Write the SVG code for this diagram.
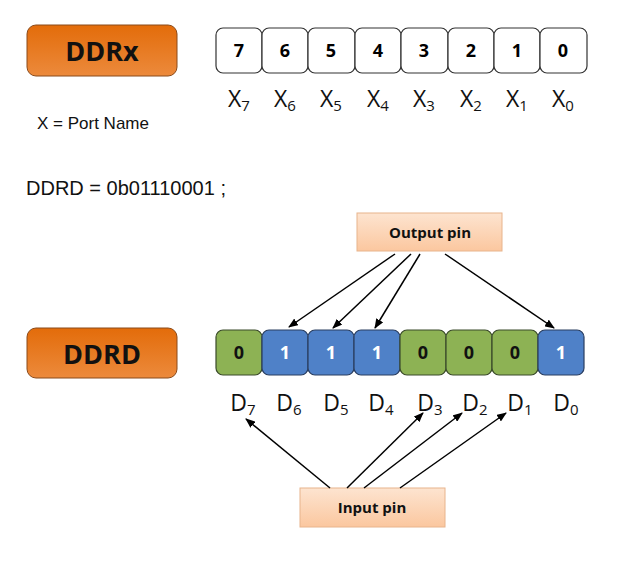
<svg xmlns="http://www.w3.org/2000/svg" width="620" height="563" viewBox="0 0 620 563">
<defs>
<linearGradient id="og" x1="0" y1="0" x2="0" y2="1"><stop offset="0" stop-color="#e36c0a"/><stop offset="1" stop-color="#ec8a3c"/></linearGradient>
<linearGradient id="pg" x1="0" y1="0" x2="0" y2="1"><stop offset="0" stop-color="#fde4d0"/><stop offset="1" stop-color="#fbc79f"/></linearGradient>
<marker id="ah" markerWidth="10" markerHeight="8" refX="9" refY="4" orient="auto" markerUnits="userSpaceOnUse"><path d="M0,0 L10,4 L0,8 z" fill="#000"/></marker>
<style>
.title{font-family:"Open Sans",sans-serif;font-weight:bold;font-size:27px;fill:#111;text-anchor:middle}
.cell{fill:#fff;stroke:#333;stroke-width:1.2}
.g{fill:#8db254;stroke:#3a4a2a;stroke-width:1.2}
.b{fill:#4f81c8;stroke:#2a3e60;stroke-width:1.2}
.num{font-family:"Open Sans",sans-serif;font-weight:bold;font-size:18px;text-anchor:middle}
.lbl{font-family:"Open Sans",sans-serif;font-size:23px;fill:#111;text-anchor:middle}
.sub{font-size:15px}
.plain{font-family:"Liberation Sans",sans-serif;fill:#111}
.pin{fill:url(#pg);stroke:#e8b48c;stroke-width:1}
.pint{font-family:"Open Sans",sans-serif;font-weight:bold;font-size:15px;fill:#111;text-anchor:middle}
.c{stroke:#000;stroke-width:1.5;fill:none;marker-end:url(#ah)}
</style>
</defs>
<rect width="620" height="563" fill="#fff"/>
<g id="ddrx"><rect x="27" y="25" width="150" height="51" rx="9" fill="url(#og)" stroke="#8a4a1a"/><text class="title" x="102" y="61">DDRx</text></g>
<g id="xreg">
<rect class="cell" x="216" y="28" width="46" height="45" rx="7"/><text class="num" x="239" y="57">7</text>
<rect class="cell" x="262" y="28" width="46" height="45" rx="7"/><text class="num" x="285" y="57">6</text>
<rect class="cell" x="308" y="28" width="47" height="45" rx="7"/><text class="num" x="331" y="57">5</text>
<rect class="cell" x="355" y="28" width="46" height="45" rx="7"/><text class="num" x="378" y="57">4</text>
<rect class="cell" x="401" y="28" width="47" height="45" rx="7"/><text class="num" x="424" y="57">3</text>
<rect class="cell" x="448" y="28" width="46" height="45" rx="7"/><text class="num" x="471" y="57">2</text>
<rect class="cell" x="494" y="28" width="46" height="45" rx="7"/><text class="num" x="517" y="57">1</text>
<rect class="cell" x="540" y="28" width="47" height="45" rx="7"/><text class="num" x="563" y="57">0</text>
<text class="lbl" x="239" y="107">X<tspan class="sub" dy="4">7</tspan></text>
<text class="lbl" x="285" y="107">X<tspan class="sub" dy="4">6</tspan></text>
<text class="lbl" x="331" y="107">X<tspan class="sub" dy="4">5</tspan></text>
<text class="lbl" x="378" y="107">X<tspan class="sub" dy="4">4</tspan></text>
<text class="lbl" x="424" y="107">X<tspan class="sub" dy="4">3</tspan></text>
<text class="lbl" x="471" y="107">X<tspan class="sub" dy="4">2</tspan></text>
<text class="lbl" x="517" y="107">X<tspan class="sub" dy="4">1</tspan></text>
<text class="lbl" x="563" y="107">X<tspan class="sub" dy="4">0</tspan></text>
</g>
<text class="plain" x="37" y="129" font-size="17">X = Port Name</text>
<text class="plain" x="26" y="195" font-size="20">DDRD = 0b01110001 ;</text>
<g id="ddrd"><rect x="27" y="328" width="150" height="50" rx="9" fill="url(#og)" stroke="#8a4a1a"/><text class="title" x="102" y="364">DDRD</text></g>
<g id="dreg">
<rect class="g" x="216" y="330" width="46" height="45" rx="7"/><text class="num" x="239" y="359" fill="#111">0</text>
<rect class="b" x="262" y="330" width="46" height="45" rx="7"/><text class="num" x="285" y="359" fill="#fff">1</text>
<rect class="b" x="308" y="330" width="46" height="45" rx="7"/><text class="num" x="331" y="359" fill="#fff">1</text>
<rect class="b" x="354" y="330" width="46" height="45" rx="7"/><text class="num" x="377" y="359" fill="#fff">1</text>
<rect class="g" x="400" y="330" width="46" height="45" rx="7"/><text class="num" x="423" y="359" fill="#111">0</text>
<rect class="g" x="446" y="330" width="46" height="45" rx="7"/><text class="num" x="469" y="359" fill="#111">0</text>
<rect class="g" x="492" y="330" width="46" height="45" rx="7"/><text class="num" x="515" y="359" fill="#111">0</text>
<rect class="b" x="538" y="330" width="46" height="45" rx="7"/><text class="num" x="561" y="359" fill="#fff">1</text>
<text class="lbl" x="243" y="411">D<tspan class="sub" dy="4">7</tspan></text>
<text class="lbl" x="289" y="411">D<tspan class="sub" dy="4">6</tspan></text>
<text class="lbl" x="336" y="411">D<tspan class="sub" dy="4">5</tspan></text>
<text class="lbl" x="381" y="411">D<tspan class="sub" dy="4">4</tspan></text>
<text class="lbl" x="430" y="411">D<tspan class="sub" dy="4">3</tspan></text>
<text class="lbl" x="475" y="411">D<tspan class="sub" dy="4">2</tspan></text>
<text class="lbl" x="520" y="411">D<tspan class="sub" dy="4">1</tspan></text>
<text class="lbl" x="566" y="411">D<tspan class="sub" dy="4">0</tspan></text>
</g>
<g id="output"><rect class="pin" x="357" y="213" width="145" height="38"/><text class="pint" x="430" y="238">Output pin</text></g>
<g id="input"><rect class="pin" x="300" y="488" width="145" height="39"/><text class="pint" x="372" y="513">Input pin</text></g>
<g id="connectors">
<line class="c" x1="395" y1="254" x2="289" y2="327"/>
<line class="c" x1="411" y1="254" x2="333" y2="328"/>
<line class="c" x1="420" y1="254" x2="375" y2="328"/>
<line class="c" x1="445" y1="254" x2="554" y2="328"/>
<line class="c" x1="330" y1="488" x2="246" y2="419"/>
<line class="c" x1="347" y1="488" x2="423" y2="413"/>
<line class="c" x1="364" y1="488" x2="462" y2="413"/>
<line class="c" x1="400" y1="488" x2="506" y2="413"/>
</g>
</svg>
